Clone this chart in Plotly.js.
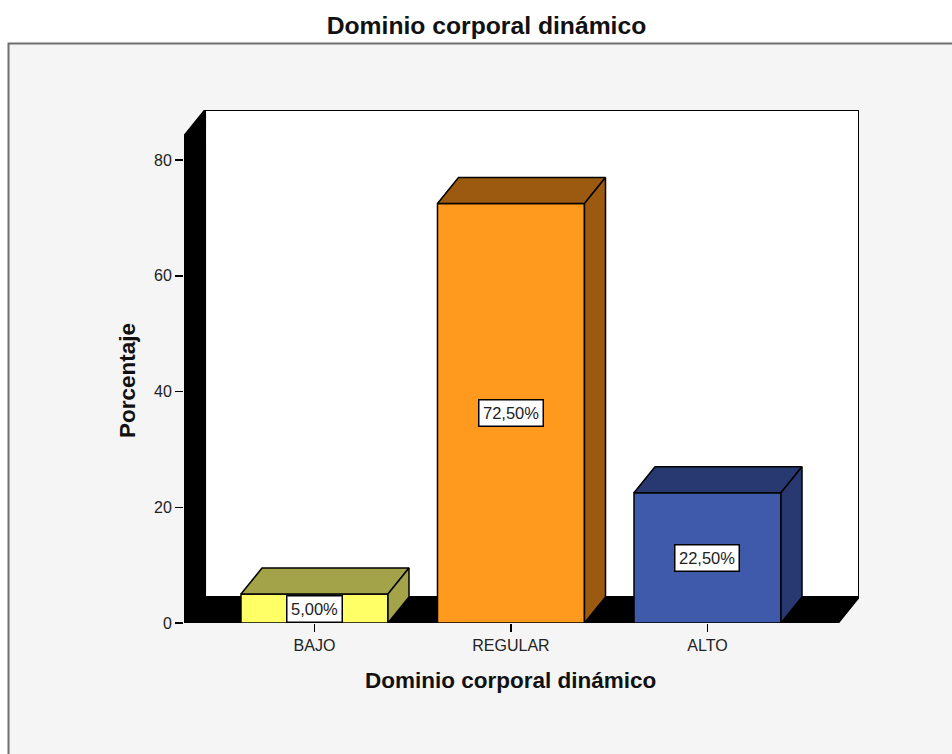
<!DOCTYPE html>
<html>
<head>
<meta charset="utf-8">
<script src="https://cdn.plot.ly/plotly-3.0.1.min.js"></script>
<style>html,body{margin:0;padding:0;background:#fff}</style>
</head>
<body>
<div id="chart" style="width:952px;height:754px"></div>
<script>
const categories = ["BAJO", "REGULAR", "ALTO"];
const values = [5, 72.5, 22.5];
const labels = ["5,00%", "72,50%", "22,50%"];
const frontColors = ["#FFFF66", "#FF9A1E", "#3F59AB"];
const darkColors = ["#A3A34A", "#9C5A10", "#283870"];
const yTicks = [0, 20, 40, 60, 80];

const xMin = -0.664, xMax = 2.771, yMax = 88.64;
const depthX = 0.107, depthY = 4.49, barW = 0.748;
const FONT = '"Liberation Sans", Arial, sans-serif';

function poly(xs, ys, fill, lineColor) {
  return {type: "scatter", mode: "lines", x: xs.concat(xs[0]), y: ys.concat(ys[0]),
    fill: "toself", fillcolor: fill, line: {color: lineColor, width: 1.5},
    hoverinfo: "skip", showlegend: false};
}
function pathOf(xs, ys) {
  return "M" + xs.map((x, i) => x + "," + ys[i]).join(" L") + " Z";
}
function wall(xs, ys, fill) {
  return {type: "path", xref: "x", yref: "y", layer: "below", path: pathOf(xs, ys),
    fillcolor: fill, line: {color: "#000000", width: 2}};
}

const traces = [];
categories.forEach((c, i) => {
  const l = i - barW / 2, r = i + barW / 2, v = values[i];
  traces.push({type: "bar", x: [i], y: [v], width: [barW], name: c,
    marker: {color: frontColors[i], line: {color: "#000000", width: 1.5}},
    hoverinfo: "skip", showlegend: false});
  traces.push(poly([l, r, r + depthX, l + depthX], [v, v, v + depthY, v + depthY], darkColors[i], "#000000"));
  traces.push(poly([r, r + depthX, r + depthX, r], [0, depthY, v + depthY, v], darkColors[i], "#000000"));
});

const axisTitleFont = {size: 22.5, family: FONT, color: "#111"};

const layout = {
  width: 952, height: 754,
  margin: {l: 184, r: 93, t: 110, b: 131, pad: 0},
  paper_bgcolor: "#FFFFFF",
  plot_bgcolor: "rgba(0,0,0,0)",
  showlegend: false,
  barmode: "overlay",
  font: {family: FONT, color: "#1a1a1a"},
  title: {text: "<b>Dominio corporal dinámico</b>", font: {size: 24.7, family: FONT, color: "#111"},
    x: 486.5 / 952, xanchor: "center", xref: "container", y: 1 - 25 / 754, yanchor: "middle", yref: "container"},
  xaxis: {range: [xMin, xMax], tickmode: "array", tickvals: categories.map((c, i) => i), ticktext: categories,
    ticks: "outside", ticklen: 8, tickwidth: 1.5, tickcolor: "#000", showgrid: false, zeroline: false, showline: false,
    tickfont: {size: 16, family: FONT, color: "#222"}},
  yaxis: {range: [0, yMax], tickmode: "array", tickvals: yTicks, ticktext: yTicks.map(String),
    ticks: "outside", ticklen: 8, tickwidth: 1.5, tickcolor: "#000", showgrid: false, zeroline: false, showline: false,
    tickfont: {size: 16, family: FONT, color: "#222"}},
  shapes: [
    {type: "rect", xref: "paper", yref: "paper", layer: "below",
      x0: (8.5 - 184) / 675, x1: (960 - 184) / 675, y0: (623 - 770) / 513, y1: (623 - 43.5) / 513,
      fillcolor: "#F5F5F5", line: {color: "#6e6e6e", width: 2}},
    wall([xMin + depthX, xMax, xMax, xMin + depthX], [depthY, depthY, yMax, yMax], "#FFFFFF"),
    wall([xMin, xMin + depthX, xMin + depthX, xMin], [0, depthY, yMax, yMax - depthY], "#000000"),
    wall([xMin, xMax - depthX, xMax, xMin + depthX], [0, 0, depthY, depthY], "#000000")
  ],
  annotations: categories.map((c, i) => ({
    x: i, y: values[i] / 2, xref: "x", yref: "y", text: labels[i], showarrow: false,
    font: {size: 16.5, family: FONT, color: "#222"}, bgcolor: "#FFFFFF", bordercolor: "#000000", borderwidth: 1.5, borderpad: 3.5
  })).concat([
    {x: 0.4844, y: -0.113, xref: "paper", yref: "paper", xanchor: "center", yanchor: "middle", showarrow: false,
      text: "<b>Dominio corporal dinámico</b>", font: axisTitleFont},
    {x: -0.083, y: 0.4737, xref: "paper", yref: "paper", xanchor: "center", yanchor: "middle", showarrow: false,
      textangle: -90, text: "<b>Porcentaje</b>", font: axisTitleFont}
  ])
};
Plotly.newPlot("chart", traces, layout, {displayModeBar: false, staticPlot: true});
</script>
</body>
</html>
